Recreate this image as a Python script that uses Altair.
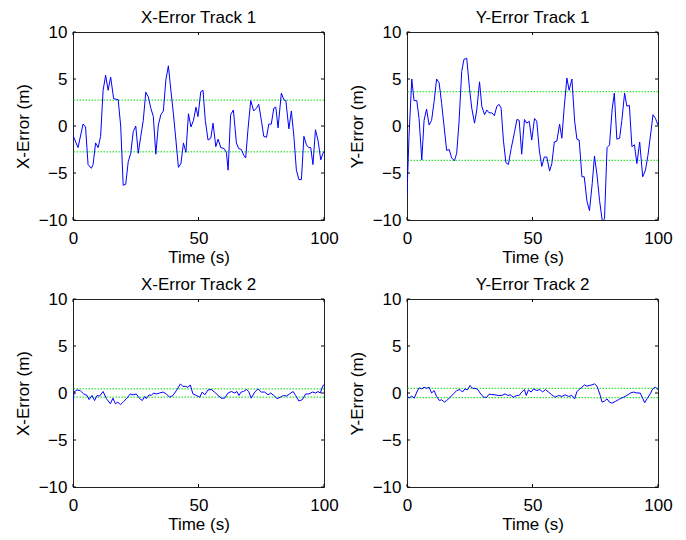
import altair as alt
import pandas as pd

# ---------------- data ----------------
x1_t = [0, 2, 4, 5, 6, 7.3, 8, 9, 10, 11, 12, 13, 14, 15, 16.2, 18, 19, 20, 21, 22, 23, 24, 25,
        26, 27, 28, 29, 30, 31, 32, 33, 34, 35, 36, 37, 38, 39, 40, 41, 42, 43, 44, 45, 46, 47,
        48, 49, 49.8, 50.9, 51.8, 52.7, 53.8, 54.9, 55.8, 56.9, 57.8, 58.9, 60.2, 61.1, 61.8,
        62.8, 63.9, 65.1, 66, 67.1, 68, 68.8, 69.7, 70.8, 72, 73.1, 74, 75.1, 76, 77.1, 78, 79,
        80, 80.8, 81.7, 83, 84, 84.8, 86, 87, 88, 89, 90, 91, 92, 93, 93.9, 94.7, 95.6, 96.6,
        97.6, 98.7, 99.6, 100]
x1_v = [-1.0, -2.3, 0.2, -0.1, -4.1, -4.5, -4.1, -1.8, -2.3, -1.1, 3.8, 5.4, 3.8, 5.2, 2.9, 2.8,
        0.0, -6.3, -6.2, -3.8, -2.9, -0.6, 0.0, -2.9, -1.1, 0.6, 3.6, 3.1, 1.9, 1.0, -3.0, 0.1,
        1.2, 1.6, 4.9, 6.4, 3.8, 1.3, -1.5, -4.4, -4.0, -1.8, -2.8, 1.3, -0.1, 0.6, 2.0, 1.0,
        3.65, 3.8, 0.6, -1.5, -1.3, 0.3, -2.2, -1.4, -2.3, -2.4, -2.8, -4.7, 1.2, 1.7, -1.8,
        -2.4, -2.5, -3.1, -3.4, -0.4, 2.7, 1.6, 1.9, 2.3, 0.5, -1.1, -1.2, 0.2, 0.2, 1.9, 2.0,
        -0.2, 3.5, 2.8, 2.7, -0.3, 1.6, -1.1, -4.7, -5.7, -5.7, -1.1, -2.0, -2.3, -2.3, -4.1,
        -0.4, -1.5, -3.6, -2.9, -2.7]

y1_t = [0, 0.8, 1.9, 2.8, 3.9, 4.8, 5.9, 6.8, 7.8, 8.8, 9.8, 10.8, 11.8, 12.8, 13.8, 14.8, 15.8,
        16.8, 17.8, 18.9, 19.8, 20.7, 21.8, 22.7, 23.8, 24.9, 25.8, 26.9, 27.8, 28.9, 29.8, 30.9,
        31.8, 32.7, 33.8, 34.8, 35.8, 36.7, 37.5, 38.4, 39.4, 40.4, 41.5, 42.8, 43.8, 44.7, 45.7,
        46.8, 47.7, 48.7, 49.7, 50.8, 51.7, 52.7, 53.7, 54.7, 55.7, 56.8, 57.7, 58.7, 59.7, 60.8,
        61.7, 62.6, 63.7, 64.6, 65.7, 66.8, 67.7, 68.6, 69.7, 70.6, 71.7, 72.7, 73.8, 74.7, 75.7,
        76.7, 77.9, 78.7, 79.7, 80.7, 81.7, 82.6, 83.6, 84.7, 85.6, 86.7, 87.6, 88.6, 89.6, 90.6,
        91.6, 92.7, 93.9, 95, 96, 97.2, 98, 99, 100]
y1_v = [-7.2, -1.1, 5.0, 2.7, 2.7, 0.8, -3.6, 0.6, 1.8, 0.1, 0.6, 2.6, 5.0, 4.6, 2.4, -0.1, -2.6,
        -2.5, -3.4, -3.7, -2.9, 0.3, 5.8, 7.1, 7.2, 4.0, 1.9, 0.3, 1.7, 4.7, 2.1, 1.2, 1.7, 1.4,
        1.4, 1.1, 2.1, 2.3, 1.9, -1.5, -3.9, -4.1, -2.4, -0.7, 0.7, 0.6, -3.0, 0.7, 0.3, 0.5,
        -1.5, 0.8, 0.5, -2.55, -4.3, -3.3, -3.3, -4.8, -4.0, -1.7, -1.6, 0.2, -1.3, 1.9, 5.1,
        3.8, 5.0, 0.5, -1.4, -1.5, -5.4, -5.4, -8.0, -9.0, -6.1, -3.2, -5.2, -7.9, -10.3, -9.8,
        -2.3, -2.0, 1.7, 3.5, -1.4, -1.3, 0.6, 3.5, 2.1, 2.2, -2.2, -2.0, -4.0, -1.7, -5.4, -4.7,
        -3.1, -0.6, 1.2, 0.8, 0.1]

x2_t = [0, 0.4, 1.6, 2.9, 4.2, 5.6, 6.4, 7.6, 8.6, 9.6, 10.6, 12, 13.3, 14.9, 15.9, 16.9, 17.9,
        18.9, 20.2, 21.5, 22.8, 23.9, 25.2, 26.6, 27.6, 28.6, 29.2, 30.3, 31.2, 32.1, 33.2, 34.5,
        35.9, 37.2, 38.5, 39.8, 41.2, 42.8, 43.8, 44.9, 45.8, 46.7, 47.8, 49.1, 50.5, 51.5, 52.5,
        53.8, 55.1, 56.4, 57.8, 59.1, 60.4, 61.8, 63.1, 64.4, 65.3, 66.1, 67, 67.9, 69.1, 70, 71,
        72.4, 73.7, 75, 76.4, 77.7, 78.8, 80, 81.3, 82.6, 83.9, 85, 86.3, 87.7, 88.7, 90, 91.4,
        92.7, 94, 95.4, 96.7, 97.6, 98.5, 99.6, 100]
x2_v = [-1.0, 0.1, 0.33, 0.26, -0.1, -0.26, -0.7, -0.26, -0.8, -0.26, -0.33, 0.16, -0.6, -1.15,
        -0.55, -1.15, -0.97, -1.25, -0.9, -0.55, -0.1, -0.2, -0.1, -0.6, -0.8, -0.37, -0.6, -0.2,
        -0.26, 0.0, -0.1, 0.0, 0.1, -0.1, -0.45, -0.26, 0.26, 0.97, 0.7, 0.7, 0.6, 0.86, -0.1,
        -0.26, -0.45, 0.1, -0.2, 0.33, 0.37, 0.1, -0.26, -0.55, -0.55, 0.0, 0.16, 0.0, 0.16,
        -0.26, 0.1, 0.16, 0.37, 0.16, -0.55, 0.1, 0.44, 0.1, 0.1, -0.2, 0.0, -0.26, -0.6, -0.45,
        -0.26, -0.33, -0.1, 0.16, -0.26, -0.85, -0.7, -0.1, -0.1, 0.1, 0.0, 0.16, 0.0, 0.8, 0.86]

y2_t = [0, 0.8, 1.9, 2.9, 3.9, 4.8, 5.9, 6.8, 7.8, 8.8, 9.8, 10.8, 11.8, 12.9, 13.8, 14.9, 15.8,
        17.2, 18.5, 19.8, 21.1, 22.1, 23.1, 24.1, 25.1, 26.1, 27.1, 28.2, 29.1, 30.5, 31.8, 32.7,
        33.8, 35.1, 36.4, 37.8, 39.1, 40.2, 41.1, 42.4, 43.8, 44.7, 45.7, 46.8, 47.5, 48.4, 49.5,
        50.4, 51.7, 53, 54, 55.1, 56.4, 57.7, 59, 60.4, 61.7, 63, 64.4, 65.7, 66.8, 67.7, 68.6,
        69.7, 70.7, 71.7, 72.6, 73.7, 74.7, 75.7, 77, 77.7, 78.7, 79.7, 80.6, 81.6, 83, 84.3,
        85.4, 86.3, 87.6, 89, 90.3, 91.6, 92.9, 93.9, 94.7, 95.6, 96.9, 97.9, 98.9, 100]
y2_v = [-0.26, -0.55, -0.33, -0.55, 0.1, 0.55, 0.44, 0.62, 0.5, 0.62, 0.0, 0.26, -0.37, -0.8,
        -0.72, -0.97, -0.8, -0.45, -0.1, 0.26, 0.37, 0.1, 0.44, 0.33, 0.8, 0.5, 0.5, 0.37, 0.0,
        -0.45, -0.45, -0.13, -0.16, -0.2, -0.26, -0.26, -0.1, -0.26, -0.2, -0.45, -0.26, -0.26,
        0.1, 0.37, -0.26, 0.33, 0.1, 0.44, 0.26, 0.37, 0.1, 0.37, 0.1, -0.2, -0.45, -0.26, -0.37,
        -0.2, -0.37, -0.26, -0.62, 0.16, 0.37, 0.62, 0.86, 0.72, 0.8, 0.86, 0.97, 0.72, -0.26,
        -0.97, -0.86, -0.62, -0.97, -1.08, -0.9, -0.7, -0.55, -0.45, -0.26, 0.0, 0.1, 0.0, 0.0,
        -0.55, -1.04, -0.62, -0.1, 0.44, 0.62, 0.37]

sigmas = [2.75, 3.65, 0.44, 0.5]
titles = ["X-Error Track 1", "Y-Error Track 1", "X-Error Track 2", "Y-Error Track 2"]
ylabels = ["X-Error (m)", "Y-Error (m)", "X-Error (m)", "Y-Error (m)"]
x_ticks = [0, 50, 100]
y_ticks = [-10, -5, 0, 5, 10]

# ---------------- styling ----------------
W, H = 251, 188
FONT = "Liberation Sans"
FS = 17
TL = 3  # inward tick length


def panel(t, v, sigma, title, ylabel):
    df = pd.DataFrame({"t": t, "v": v})
    xs = alt.Scale(domain=[0, 100], nice=False, zero=False)
    ys = alt.Scale(domain=[-10, 10], nice=False, zero=False)
    xaxis = alt.Axis(values=x_ticks, title="Time (s)", ticks=False, domain=False, grid=False,
                     labelFlush=False, labelPadding=10, titlePadding=3)
    yaxis = alt.Axis(values=y_ticks, title=ylabel, ticks=False, domain=False, grid=False,
                     labelFlush=False, labelPadding=6, titlePadding=6)
    line = alt.Chart(df).mark_line(color="#0000ff", strokeWidth=1, clip=True).encode(
        x=alt.X("t:Q", scale=xs, axis=xaxis),
        y=alt.Y("v:Q", scale=ys, axis=yaxis),
    )
    sig = alt.Chart(pd.DataFrame({"s": [sigma, -sigma]})).mark_rule(
        color="#00dd00", strokeWidth=1, strokeDash=[1.5, 1.5]
    ).encode(y=alt.Y("s:Q", scale=ys))
    xt = pd.DataFrame({"tx": x_ticks})
    yt = pd.DataFrame({"ty": y_ticks})
    tick_style = dict(color="#000000", strokeWidth=1)
    xb = alt.Chart(xt).mark_rule(**tick_style).encode(
        x=alt.X("tx:Q", scale=xs), y=alt.value(H), y2=alt.value(H - TL))
    xtop = alt.Chart(xt).mark_rule(**tick_style).encode(
        x=alt.X("tx:Q", scale=xs), y=alt.value(0), y2=alt.value(TL))
    yl = alt.Chart(yt).mark_rule(**tick_style).encode(
        y=alt.Y("ty:Q", scale=ys), x=alt.value(0), x2=alt.value(TL))
    yr = alt.Chart(yt).mark_rule(**tick_style).encode(
        y=alt.Y("ty:Q", scale=ys), x=alt.value(W), x2=alt.value(W - TL))
    return alt.layer(sig, line, xb, xtop, yl, yr).properties(
        width=W, height=H,
        title=alt.TitleParams(text=title, fontSize=FS, fontWeight="normal", font=FONT,
                              offset=-4, anchor="middle", color="#000000"),
    )


p1 = panel(x1_t, x1_v, sigmas[0], titles[0], ylabels[0])
p2 = panel(y1_t, y1_v, sigmas[1], titles[1], ylabels[1])
p3 = panel(x2_t, x2_v, sigmas[2], titles[2], ylabels[2])
p4 = panel(y2_t, y2_v, sigmas[3], titles[3], ylabels[3])

chart = alt.vconcat(
    alt.hconcat(p1, p2, spacing=8),
    alt.hconcat(p3, p4, spacing=8),
    spacing=9,
).properties(
    padding={"left": 5, "top": 0, "right": 0, "bottom": 0},
    background="#ffffff",
).configure_view(
    stroke="#222222", strokeWidth=1
).configure_axis(
    labelFont=FONT, labelFontSize=FS, labelColor="#000000",
    titleFont=FONT, titleFontSize=FS, titleFontWeight="normal", titleColor="#000000",
)

chart.save("out.html", embed_options={"renderer": "svg", "actions": False})
